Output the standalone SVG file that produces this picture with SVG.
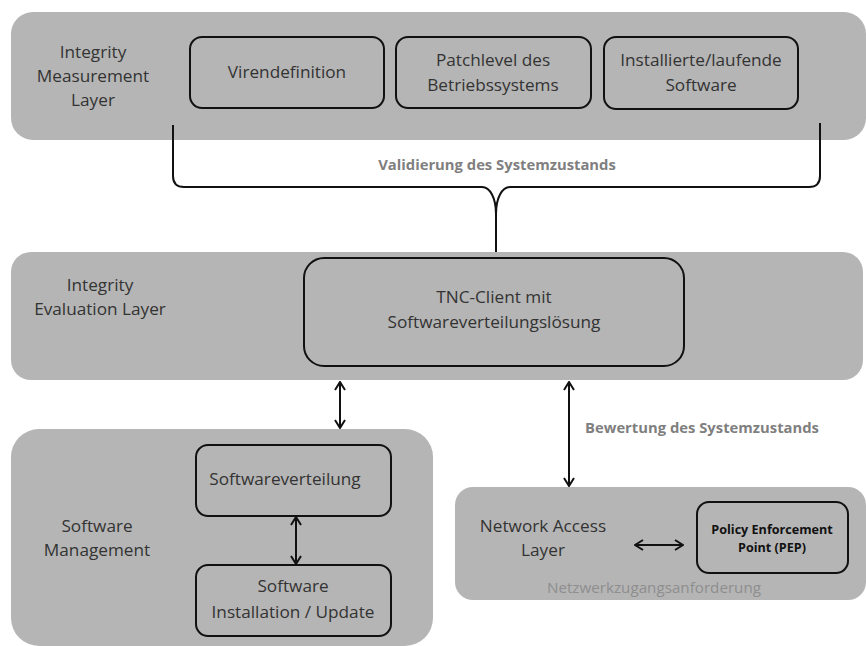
<svg xmlns="http://www.w3.org/2000/svg" width="866" height="646" viewBox="0 0 866 646">
<defs>
<style>
.layer{fill:#b5b5b5;stroke:none}
.box{fill:#b5b5b5;stroke:#111;stroke-width:2}
.t{font-family:"Open Sans","Liberation Sans",sans-serif;font-size:17.2px;fill:#333;text-anchor:middle}
.lbl{font-family:"Open Sans","Liberation Sans",sans-serif;font-size:14.8px;font-weight:bold;fill:#7f7f7f;text-anchor:middle}
.pep{font-family:"Open Sans","Liberation Sans",sans-serif;font-size:12.6px;font-weight:bold;fill:#111;text-anchor:middle}
.req{font-family:"Open Sans","Liberation Sans",sans-serif;font-size:15.2px;fill:#8e8e8e;text-anchor:middle}
.con{fill:none;stroke:#111;stroke-width:2}
</style>
<marker id="ah" viewBox="0 0 10 12" refX="9" refY="6" markerWidth="10" markerHeight="12" markerUnits="userSpaceOnUse" orient="auto-start-reverse">
<path d="M1,1 L9,6 L1,11" fill="none" stroke="#111" stroke-width="2"/>
</marker>
</defs>
<rect width="866" height="646" fill="#fff"/>

<g id="measurement-layer">
<rect class="layer" x="11" y="12" width="855" height="128" rx="22"/>
<text class="t" x="93" y="58">Integrity</text>
<text class="t" x="93" y="82">Measurement</text>
<text class="t" x="93" y="106">Layer</text>
</g>
<g id="virendefinition">
<rect class="box" x="190" y="37" width="194" height="71" rx="12"/>
<text class="t" x="287" y="78">Virendefinition</text>
</g>
<g id="patchlevel">
<rect class="box" x="396" y="37" width="195" height="71" rx="12"/>
<text class="t" x="493" y="66">Patchlevel des</text>
<text class="t" x="493" y="91">Betriebssystems</text>
</g>
<g id="software-installed">
<rect class="box" x="604" y="37" width="194" height="72" rx="12"/>
<text class="t" x="701" y="66">Installierte/laufende</text>
<text class="t" x="701" y="91">Software</text>
</g>

<g id="evaluation-layer">
<rect class="layer" x="11" y="252" width="852" height="128" rx="20"/>
<text class="t" x="100" y="291">Integrity</text>
<text class="t" x="100" y="315">Evaluation Layer</text>
</g>
<g id="tnc-client">
<rect class="box" x="304" y="258" width="380" height="108" rx="20"/>
<text class="t" x="494" y="303">TNC-Client mit</text>
<text class="t" x="494" y="328">Softwareverteilungslösung</text>
</g>

<g id="software-management-layer">
<rect class="layer" x="11" y="429" width="422" height="217" rx="28"/>
<text class="t" x="97" y="532">Software</text>
<text class="t" x="97" y="556">Management</text>
</g>
<g id="softwareverteilung">
<rect class="box" x="196" y="445" width="195" height="71" rx="12"/>
<text class="t" x="285" y="485">Softwareverteilung</text>
</g>
<g id="software-installation">
<rect class="box" x="196" y="565" width="195" height="71" rx="12"/>
<text class="t" x="293" y="592">Software</text>
<text class="t" x="293" y="618">Installation / Update</text>
</g>

<g id="network-access-layer">
<rect class="layer" x="455" y="487" width="411" height="113" rx="18"/>
<text class="t" x="543" y="532">Network Access</text>
<text class="t" x="543" y="556">Layer</text>
<text class="req" x="654" y="593">Netzwerkzugangsanforderung</text>
</g>
<g id="pep">
<rect class="box" x="697" y="502" width="151" height="71" rx="12"/>
<text class="pep" x="772" y="534">Policy Enforcement</text>
<text class="pep" x="772" y="552">Point (PEP)</text>
</g>

<g id="connectors">
<path class="con" d="M173,125 L173,176 Q173,187 184,187 L482,187 C490,187 496,198 496,214 L496,252"/>
<path class="con" d="M820,123 L820,176 Q820,187 809,187 L510,187 C502,187 496,198 496,214"/>
<text class="lbl" x="497" y="170">Validierung des Systemzustands</text>
<line class="con" x1="340" y1="382" x2="340" y2="428" marker-start="url(#ah)" marker-end="url(#ah)"/>
<line class="con" x1="569" y1="382" x2="569" y2="486" marker-start="url(#ah)" marker-end="url(#ah)"/>
<text class="lbl" x="702" y="433">Bewertung des Systemzustands</text>
<line class="con" x1="296" y1="517" x2="296" y2="564" marker-start="url(#ah)" marker-end="url(#ah)"/>
<line class="con" x1="635" y1="545" x2="683" y2="545" marker-start="url(#ah)" marker-end="url(#ah)"/>
</g>
</svg>
